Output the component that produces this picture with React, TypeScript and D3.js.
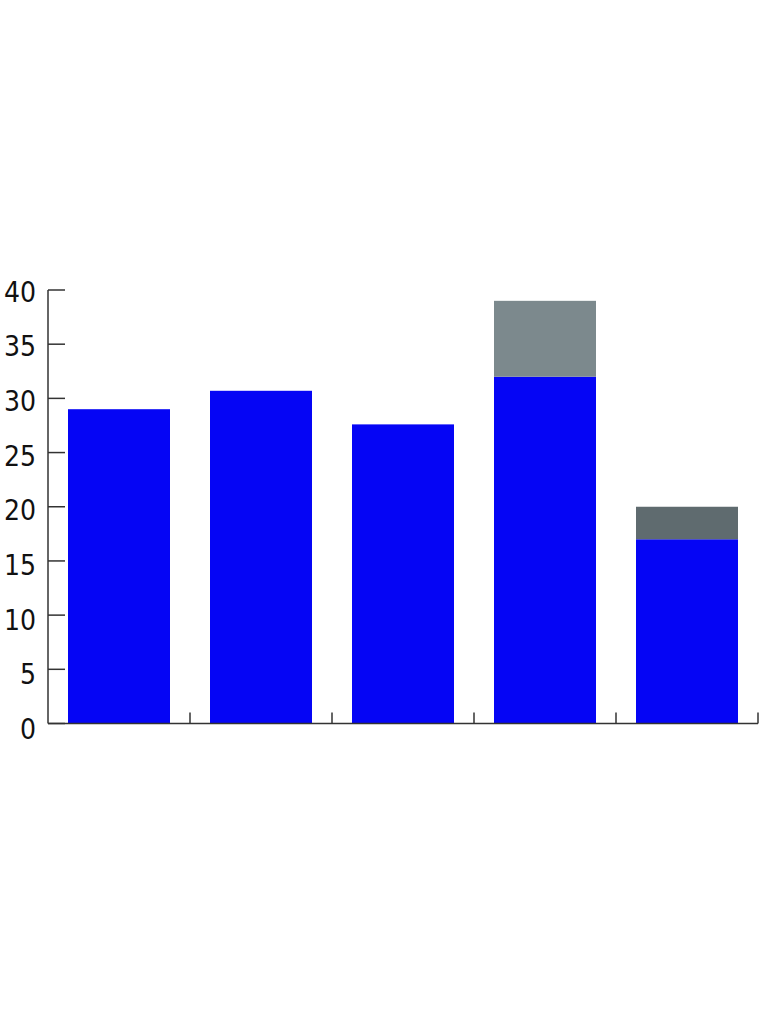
import React from "react";
import * as d3 from "d3";

const categories = ["C1", "C2", "C3", "C4", "C5"];
const baseValues = [29, 30.7, 27.6, 32, 17];
const topValues = [0, 0, 0, 7, 3];
const topColors = ["#7c898d", "#7c898d", "#7c898d", "#7c898d", "#5f6b6f"];
const yTicks = [0, 5, 10, 15, 20, 25, 30, 35, 40];

export default function App() {
  const W = 762, H = 1024;
  const x0 = 48, x1 = 758, yTop = 290, yBot = 723.5;
  const x = d3.scaleBand<string>().domain(categories).range([x0, x1]).paddingInner(40 / 142).paddingOuter(20 / 142);
  const y = d3.scaleLinear().domain([0, 40]).range([yBot, yTop]);
  const yLabel = d3.scaleLinear().domain([0, 40]).range([729, 291.6]);
  const step = x.step();
  return (
    <svg width={W} height={H} style={{ position: "absolute", left: 0, top: 0 }}>
      <rect width={W} height={H} fill="#fff" />
      {categories.map((c, i) => (
        <g key={c}>
          <rect x={x(c)} y={y(baseValues[i])} width={x.bandwidth()} height={y(0) - y(baseValues[i])} fill="#0505f5" />
          {topValues[i] > 0 && (
            <rect x={x(c)} y={y(baseValues[i] + topValues[i])} width={x.bandwidth()} height={y(baseValues[i]) - y(baseValues[i] + topValues[i])} fill={topColors[i]} />
          )}
        </g>
      ))}
      <line x1={x0} x2={x0} y1={yTop} y2={yBot} stroke="#333" strokeWidth={1.5} />
      <line x1={x0} x2={x1} y1={yBot} y2={yBot} stroke="#333" strokeWidth={1.5} />
      {yTicks.map((t) => (
        <g key={t}>
          <line x1={x0} x2={x0 + 17} y1={y(t)} y2={y(t)} stroke="#333" strokeWidth={1.5} />
          <text x={36} y={yLabel(t)} dy="0.36em" textAnchor="end" fontFamily="'DejaVu Sans Condensed', 'DejaVu Sans', sans-serif" fontStretch="condensed" fontSize={28} fill="#111">{t}</text>
        </g>
      ))}
      {categories.map((c, i) => (
        <line key={"xt" + c} x1={x0 + (i + 1) * step} x2={x0 + (i + 1) * step} y1={yBot} y2={yBot - 11} stroke="#333" strokeWidth={1.5} />
      ))}
    </svg>
  );
}
